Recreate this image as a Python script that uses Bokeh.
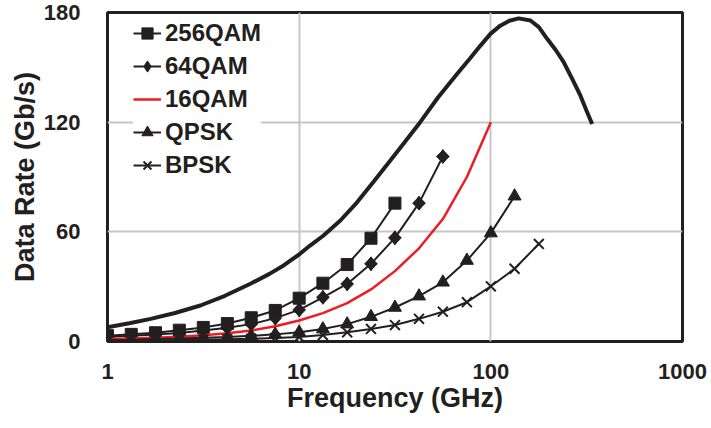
import math
from bokeh.plotting import figure
from bokeh.models import Range1d, FixedTicker, Legend, LegendItem
from bokeh.embed import file_html
from bokeh.resources import INLINE

# ---- data ----
freq = [1.0, 1.33, 1.78, 2.37, 3.16, 4.22, 5.62, 7.5, 10.0, 13.3, 17.8,
        23.7, 31.6, 42.2, 56.2, 75.0, 100.0, 133.0, 178.0]

qam256 = [3.2, 3.9, 4.8, 6.2, 7.7, 9.8, 13.0, 17.0, 23.7, 31.9, 42.1, 56.5, 75.7]
qam64 = [2.5, 3.1, 3.8, 4.7, 6.0, 7.5, 9.5, 12.8, 17.3, 24.2, 31.5, 42.5, 56.7, 75.7, 101.2]
qam16 = [1.2, 1.6, 2.0, 2.6, 3.4, 4.5, 6.0, 8.3, 11.5, 15.5, 21.0, 28.5, 38.5, 51.0, 67.0, 90.0, 120.0]
qpsk = [0.8, 1.0, 1.3, 1.6, 2.0, 2.5, 3.1, 3.9, 5.0, 6.8, 9.5, 13.5, 18.6, 24.8, 32.4, 44.3, 59.3, 79.5]
bpsk = [0.4, 0.5, 0.6, 0.8, 1.0, 1.2, 1.5, 1.9, 2.5, 3.5, 5.0, 6.9, 9.0, 12.4, 16.3, 21.5, 30.2, 39.8, 53.4]

limit_freq = [1.0, 1.3, 1.68, 2.25, 3.05, 4.1, 5.57, 7.0, 8.3, 10.1, 11.4, 13.4, 16.4,
              20.0, 24.5, 29.9, 35.5, 42.8, 53.0, 66.6, 78.0, 88.3, 99.5, 112.0, 125.0,
              139.8, 161.0, 178.0, 196.7, 218.0, 240.0, 265.0, 293.5, 315.0, 337.7]
limit_rate = [7.8, 10.0, 12.4, 15.6, 19.7, 25.0, 31.6, 37.0, 41.6, 48.0, 52.5, 58.0, 66.2,
              76.0, 87.5, 99.0, 109.0, 120.0, 133.5, 146.4, 155.0, 161.9, 168.3, 172.8, 175.5,
              176.8, 175.6, 172.0, 165.6, 159.5, 152.8, 144.0, 134.5, 126.5, 119.0]

x_ticks = [1, 10, 100, 1000]
x_tick_labels = ["1", "10", "100", "1000"]
y_ticks = [0, 60, 120, 180]

series_names = ["256QAM", "64QAM", "16QAM", "QPSK", "BPSK"]

BLACK = "#231f20"
RED = "#ed1c24"
FONT = "Liberation Sans"

p = figure(width=711, height=428, x_axis_type="log",
           x_range=Range1d(1, 1000), y_range=Range1d(0, 180),
           output_backend="svg", toolbar_location=None,
           min_border_left=107, min_border_right=29,
           min_border_top=12, min_border_bottom=87)

p.background_fill_color = "white"
p.border_fill_color = "white"
p.outline_line_color = BLACK
p.outline_line_width = 3

# axes
p.xaxis.ticker = FixedTicker(ticks=x_ticks)
p.xaxis.major_label_overrides = {t: l for t, l in zip(x_ticks, x_tick_labels)}
p.yaxis.ticker = FixedTicker(ticks=y_ticks)
for ax in (p.xaxis[0], p.yaxis[0]):
    ax.axis_line_color = None
    ax.major_tick_line_color = None
    ax.minor_tick_line_color = None
    ax.major_label_text_font = FONT
    ax.major_label_text_font_style = "bold"
    ax.major_label_text_font_size = "22px"
    ax.major_label_text_color = BLACK
    ax.axis_label_text_font = FONT
    ax.axis_label_text_font_style = "bold"
    ax.axis_label_text_font_size = "27px"
    ax.axis_label_text_color = BLACK
p.xaxis.axis_label = "Frequency (GHz)"
p.yaxis.axis_label = "Data Rate (Gb/s)"
p.xaxis.major_label_standoff = 16
p.yaxis.major_label_standoff = 21
p.xaxis.axis_label_standoff = 1
p.yaxis.axis_label_standoff = 1

p.xgrid.ticker = FixedTicker(ticks=x_ticks)
p.ygrid.ticker = FixedTicker(ticks=y_ticks)
for g in (p.xgrid[0], p.ygrid[0]):
    g.grid_line_color = "#c6c6c6"
    g.grid_line_width = 2
p.xgrid.minor_grid_line_color = None

# thick upper-bound curve
p.line(limit_freq, limit_rate, line_color=BLACK, line_width=4)

items = []
# 256QAM
n = len(qam256)
l1 = p.line(freq[:n], qam256, line_color=BLACK, line_width=2)
m1 = p.scatter(freq[:n], qam256, marker="square", size=12, fill_color=BLACK, line_color=BLACK)
items.append(LegendItem(label=series_names[0], renderers=[l1, m1]))
# 64QAM (rotated square drawn over a diamond used for the legend glyph)
n = len(qam64)
l2 = p.line(freq[:n], qam64, line_color=BLACK, line_width=2)
m2d = p.scatter(freq[:n], qam64, marker="diamond", size=14,
                fill_color=BLACK, line_color=BLACK)
p.scatter(freq[:n], qam64, marker="square", angle=math.pi / 4, size=9,
          fill_color=BLACK, line_color=BLACK)
items.append(LegendItem(label=series_names[1], renderers=[l2, m2d]))
# 16QAM
n = len(qam16)
l3 = p.line(freq[:n], qam16, line_color=RED, line_width=2.5)
items.append(LegendItem(label=series_names[2], renderers=[l3]))
# QPSK
n = len(qpsk)
l4 = p.line(freq[:n], qpsk, line_color=BLACK, line_width=2)
m4 = p.scatter(freq[:n], qpsk, marker="triangle", size=13, fill_color=BLACK, line_color=BLACK)
items.append(LegendItem(label=series_names[3], renderers=[l4, m4]))
# BPSK
n = len(bpsk)
l5 = p.line(freq[:n], bpsk, line_color=BLACK, line_width=2)
m5 = p.scatter(freq[:n], bpsk, marker="x", size=14, line_color=BLACK, line_width=2)
items.append(LegendItem(label=series_names[4], renderers=[l5, m5]))

legend = Legend(items=items, location=(26, 162))
legend.label_text_font = FONT
legend.label_text_font_style = "bold"
legend.label_text_font_size = "24px"
legend.label_text_color = BLACK
legend.glyph_width = 28
legend.glyph_height = 28
legend.label_height = 24
legend.label_standoff = 4
legend.spacing = 5
legend.padding = 4
legend.margin = 0
legend.border_line_color = None
legend.background_fill_color = "white"
legend.background_fill_alpha = 1.0
p.add_layout(legend)

open("out.html", "w").write(file_html(p, INLINE))
